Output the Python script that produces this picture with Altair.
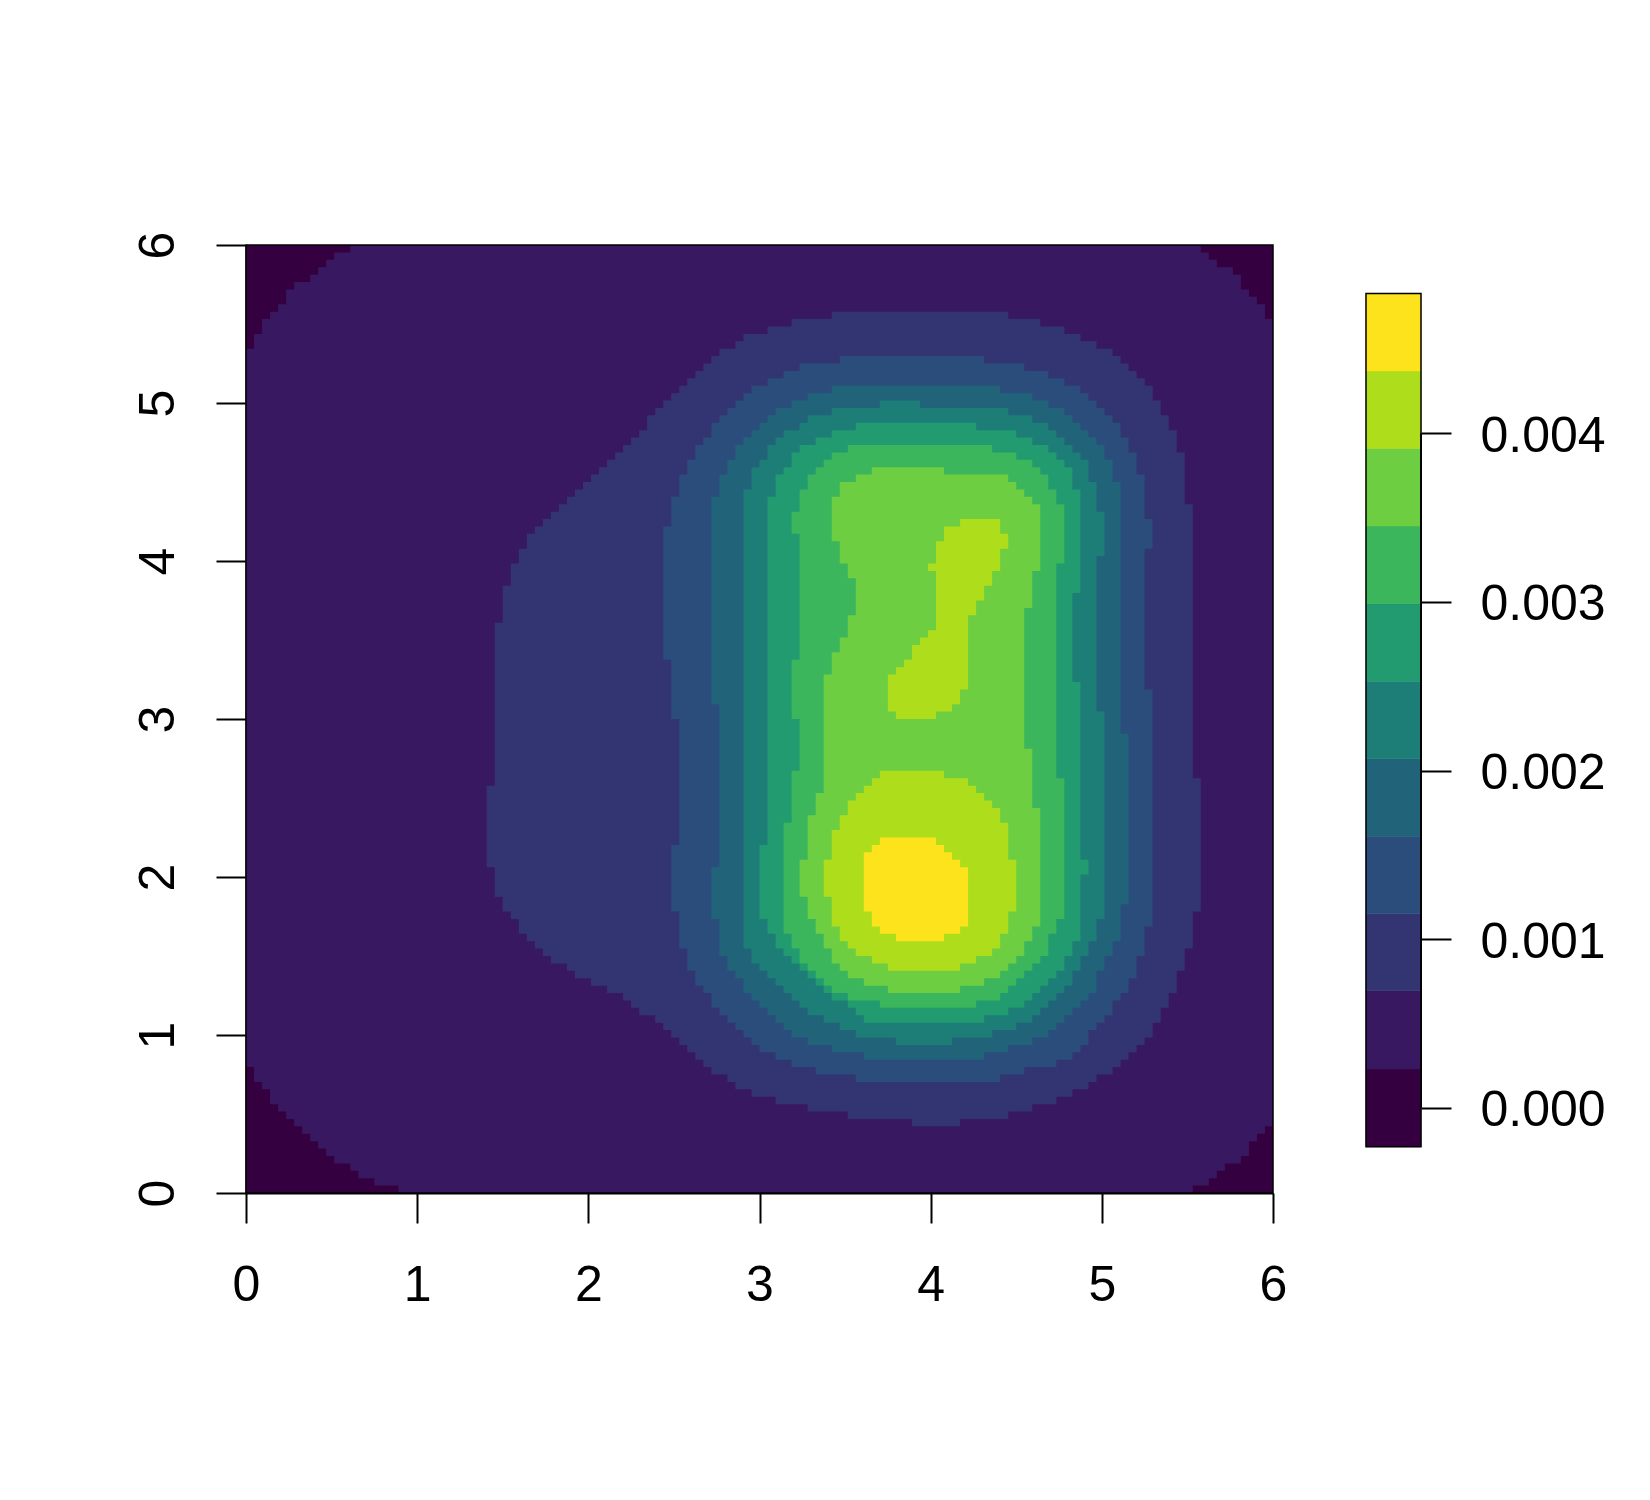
import altair as alt
import pandas as pd

GRID = 128
X_TICKS = [0, 1, 2, 3, 4, 5, 6]
BAR_TICKS = [0.000, 0.001, 0.002, 0.003, 0.004]
COLORS = ["#340040", "#381860", "#333573", "#2A4D7B", "#21647A", "#1D7E78",
          "#219B6F", "#3BB65C", "#6CCE40", "#AEDD1C", "#FDE31B"]
BAR_EDGES = [-0.000231, 0.000230, 0.000694, 0.00115, 0.00161, 0.00207,
             0.00253, 0.00299, 0.00345, 0.00391, 0.00437, 0.00483]

# Region of each image level: (first row, column) steps, rows counted from the top.
L1_LEFT = [(0,13),(1,11),(2,10),(3,9),(4,8),(5,6),(6,5),(8,4),(9,3),(10,2),(12,1),(14,0),(111,1),(113,2),(114,3),(116,4),(117,5),(118,6),(119,7),(120,8),(121,9),(122,10),(123,11),(124,13),(125,14),(126,16),(127,19)]
L1_RIGHT = [(0,119),(1,120),(2,121),(3,123),(4,124),(6,125),(7,126),(8,127),(10,128),(119,127),(120,126),(121,125),(123,124),(124,122),(125,121),(126,120),(127,118)]
L1_END = 127

L2_LEFT = [(9,73),(10,68),(11,65),(12,62),(13,61),(14,59),(15,58),(16,57),(17,56),(18,55),(19,54),(20,53),(21,52),(22,51),(23,50),(25,49),(26,48),(27,47),(28,46),(29,45),(30,44),(31,43),(32,42),(33,41),(34,40),(35,39),(36,38),(37,37),(38,36),(39,35),(41,34),(43,33),(46,32),(51,31),(73,30),(84,31),(88,32),(90,33),(91,34),(93,35),(94,36),(95,37),(96,38),(97,40),(98,41),(99,43),(100,45),(101,47),(102,48),(103,49),(104,51),(105,52),(106,53),(107,54),(108,55),(109,56),(110,57),(111,58),(112,60),(113,61),(114,63),(115,66),(116,70),(117,75),(118,83)]
L2_RIGHT = [(9,95),(10,99),(11,102),(12,104),(13,106),(14,108),(15,109),(16,110),(17,111),(18,112),(19,113),(21,114),(23,115),(25,116),(28,117),(35,118),(72,119),(90,118),(95,117),(98,116),(101,115),(103,114),(105,113),(107,112),(108,111),(109,110),(110,109),(111,108),(112,106),(113,105),(114,103),(115,101),(116,98),(117,95),(118,89)]
L2_END = 118

L3_LEFT = [(15,74),(16,69),(17,67),(18,65),(19,63),(20,62),(21,61),(22,60),(23,59),(24,58),(26,57),(27,56),(29,55),(31,54),(34,53),(38,52),(56,53),(64,54),(81,53),(90,54),(95,55),(98,56),(100,57),(101,58),(103,59),(104,60),(105,61),(106,62),(107,63),(108,64),(109,66),(110,68),(111,71),(112,76)]
L3_RIGHT = [(15,92),(16,97),(17,100),(18,102),(19,104),(20,105),(21,106),(22,107),(23,108),(24,109),(26,110),(28,111),(31,112),(37,113),(41,112),(60,113),(92,112),(96,111),(99,110),(101,109),(102,108),(104,107),(105,106),(106,105),(108,104),(109,103),(110,101),(111,97),(112,94)]
L3_END = 112

L4_LEFT = [(19,73),(20,70),(21,68),(22,66),(23,65),(24,64),(25,63),(26,62),(27,61),(29,60),(31,59),(34,58),(62,59),(84,58),(91,59),(96,60),(98,61),(99,62),(101,63),(102,64),(103,65),(104,66),(105,67),(106,68),(107,70),(108,73),(109,77)]
L4_RIGHT = [(19,94),(20,98),(21,100),(22,102),(23,103),(24,104),(25,105),(26,106),(27,107),(29,108),(32,109),(66,110),(89,109),(94,108),(96,107),(98,106),(101,105),(102,104),(103,103),(104,102),(105,101),(106,100),(107,98),(108,95),(109,92)]
L4_END = 109

L5_LEFT = [(21,79),(22,73),(23,70),(24,69),(25,67),(26,66),(27,65),(29,64),(30,63),(33,62),(95,63),(97,64),(98,65),(99,66),(100,67),(101,68),(102,69),(103,70),(104,72),(105,74),(106,76),(107,81)]
L5_RIGHT = [(21,84),(22,95),(23,98),(24,100),(25,101),(26,102),(27,103),(28,104),(29,105),(32,106),(36,107),(42,106),(63,107),(91,106),(94,105),(96,104),(98,103),(100,102),(101,101),(102,100),(103,99),(104,98),(105,96),(106,93),(107,88)]
L5_END = 107

L6_LEFT = [(24,76),(25,73),(26,71),(27,69),(28,68),(30,67),(31,66),(34,65),(81,64),(91,65),(93,66),(95,67),(96,68),(97,69),(98,70),(99,71),(100,72),(101,73),(102,75),(103,76),(104,77)]
L6_RIGHT = [(24,91),(25,96),(26,98),(27,100),(28,101),(29,102),(30,103),(33,104),(47,103),(59,104),(83,105),(85,104),(94,103),(96,102),(98,101),(99,100),(100,99),(101,98),(102,97),(103,95),(104,92)]
L6_END = 104

L7_LEFT = [(27,75),(28,73),(29,72),(30,71),(31,70),(33,69),(36,68),(39,69),(56,68),(64,69),(71,68),(78,67),(93,68),(95,69),(97,70),(98,71),(99,72),(100,73),(101,75),(102,79)]
L7_RIGHT = [(27,93),(28,96),(29,98),(30,99),(31,100),(33,101),(35,102),(43,101),(72,102),(91,101),(93,100),(96,99),(97,98),(98,97),(99,96),(100,95),(101,94),(102,91)]
L7_END = 102

L8_LEFT = [(30,78),(31,76),(32,74),(34,73),(40,74),(43,75),(45,76),(50,75),(53,74),(55,73),(58,72),(74,71),(77,70),(83,69),(88,70),(91,71),(93,72),(95,73),(97,74),(98,75),(99,77),(100,80)]
L8_RIGHT = [(30,87),(31,95),(32,96),(33,97),(34,98),(35,99),(44,98),(49,97),(68,98),(76,99),(92,98),(94,97),(96,96),(97,95),(98,94),(99,92),(100,89)]
L8_END = 100

L9A_LEFT = [(37,89),(38,87),(40,86),(43,85),(44,86),(52,85),(53,84),(54,83),(56,82),(57,81),(58,80),(63,81)]
L9A_RIGHT = [(37,94),(39,95),(41,94),(44,93),(46,92),(48,91),(50,90),(60,89),(62,88),(63,86)]
L9A_END = 63

L9B_LEFT = [(71,79),(72,78),(73,77),(74,76),(75,75),(77,74),(79,73),(83,72),(88,73),(92,74),(94,75),(95,76),(96,78),(97,80)]
L9B_RIGHT = [(71,87),(72,90),(73,91),(74,92),(75,93),(76,94),(78,95),(83,96),(90,95),(93,94),(95,93),(96,91),(97,89)]
L9B_END = 97

L10_LEFT = [(80,79),(81,78),(82,77),(90,78),(92,79),(93,81)]
L10_RIGHT = [(80,86),(81,87),(82,88),(83,89),(84,90),(92,89),(93,87)]
L10_END = 93

REGIONS = [
    (1, L1_LEFT, L1_RIGHT, L1_END),
    (2, L2_LEFT, L2_RIGHT, L2_END),
    (3, L3_LEFT, L3_RIGHT, L3_END),
    (4, L4_LEFT, L4_RIGHT, L4_END),
    (5, L5_LEFT, L5_RIGHT, L5_END),
    (6, L6_LEFT, L6_RIGHT, L6_END),
    (7, L7_LEFT, L7_RIGHT, L7_END),
    (8, L8_LEFT, L8_RIGHT, L8_END),
    (9, L9A_LEFT, L9A_RIGHT, L9A_END),
    (9, L9B_LEFT, L9B_RIGHT, L9B_END),
    (10, L10_LEFT, L10_RIGHT, L10_END),
]


def col_at(steps, row):
    value = steps[0][1]
    for start, col in steps:
        if start <= row:
            value = col
    return value


def x_of(col):
    return col * 6 / GRID


def y_of(row):
    return 6 - row * 6 / GRID


# Each region becomes one stepped area: every row contributes its lower edge.
records = [
    {"region": 0, "level": 0, "x": 0, "x2": 6, "y": 6},
    {"region": 0, "level": 0, "x": 0, "x2": 6, "y": 0},
]
for region, (level, left, right, end) in enumerate(REGIONS, start=1):
    first = left[0][0]
    records.append({"region": region, "level": level, "x": x_of(col_at(left, first)),
                    "x2": x_of(col_at(right, first)), "y": y_of(first)})
    for row in range(first, end + 1):
        records.append({"region": region, "level": level, "x": x_of(col_at(left, row)),
                        "x2": x_of(col_at(right, row)), "y": y_of(row + 1)})
cells = pd.DataFrame(records)

FONT = "Liberation Sans"
color_scale = alt.Scale(domain=list(range(11)), range=COLORS)
x_scale = alt.Scale(domain=[0, 6], nice=False, zero=False)
y_scale = alt.Scale(domain=[0, 6], nice=False, zero=False)


def region_layer(region):
    return alt.Chart(cells[cells["region"] == region]).mark_area(
        orient="horizontal", interpolate="step-after"
    ).encode(
        x=alt.X("x:Q", scale=x_scale, title=None, axis=alt.Axis(
            values=X_TICKS, format="d", grid=False, tickSize=30, tickWidth=2, tickColor="black",
            domainColor="black", domainWidth=2, labelFont=FONT, labelFontSize=50,
            labelColor="black", labelPadding=37, labelFlush=False, labelOverlap=False)),
        x2="x2:Q",
        y=alt.Y("y:Q", scale=y_scale, title=None, axis=alt.Axis(
            values=X_TICKS, format="d", grid=False, tickSize=30, tickWidth=2, tickColor="black",
            domainColor="black", domainWidth=2, labelFont=FONT, labelFontSize=50,
            labelColor="black", labelAngle=270, labelPadding=33, labelFlush=False, labelOverlap=False)),
        color=alt.Color("level:O", scale=color_scale, legend=None),
    )


box = alt.Chart(pd.DataFrame({"x": [0], "x2": [6], "y": [0], "y2": [6]})).mark_rect(
    filled=False, stroke="black", strokeWidth=1.5
).encode(
    x=alt.X("x:Q", scale=x_scale),
    x2="x2:Q",
    y=alt.Y("y:Q", scale=y_scale),
    y2="y2:Q",
)

main = alt.layer(*[region_layer(i) for i in range(len(REGIONS) + 1)], box).properties(width=1027, height=948)

bar_df = pd.DataFrame({
    "level": list(range(11)),
    "lo": BAR_EDGES[:-1],
    "hi": BAR_EDGES[1:],
    "a": 0,
    "b": 1,
})
bar_y = alt.Scale(domain=[-0.000506, 0.005117], nice=False, zero=False)
bar_x = alt.Scale(domain=[0, 1], nice=False, zero=False)
bar_axis = alt.Axis(
    orient="right", values=BAR_TICKS, format=".3f", grid=False, domain=False,
    tickSize=30, tickWidth=2, tickColor="black", labelFont=FONT, labelFontSize=50,
    labelColor="black", labelPadding=29, labelOffset=3, labelOverlap=False, labelFlush=False)

segments = alt.Chart(bar_df).mark_rect(strokeWidth=0.5).encode(
    x=alt.X("a:Q", scale=bar_x, axis=None),
    x2="b:Q",
    y=alt.Y("lo:Q", scale=bar_y, title=None, axis=bar_axis),
    y2="hi:Q",
    color=alt.Color("level:O", scale=color_scale, legend=None),
    stroke=alt.Stroke("level:O", scale=color_scale, legend=None),
)
outline = alt.Chart(pd.DataFrame({"a": [0], "b": [1], "lo": [BAR_EDGES[0]], "hi": [BAR_EDGES[-1]]})).mark_rect(
    filled=False, stroke="black", strokeWidth=1.5
).encode(
    x=alt.X("a:Q", scale=bar_x, axis=None),
    x2="b:Q",
    y=alt.Y("lo:Q", scale=bar_y, title=None, axis=bar_axis),
    y2="hi:Q",
)
spine = alt.Chart(pd.DataFrame({"a": [1], "lo": [BAR_TICKS[0]], "hi": [BAR_TICKS[-1]]})).mark_rule(
    color="black", strokeWidth=2
).encode(
    x=alt.X("a:Q", scale=bar_x, axis=None),
    y=alt.Y("lo:Q", scale=bar_y, title=None, axis=bar_axis),
    y2="hi:Q",
)
legend = alt.layer(segments, outline, spine).properties(width=55, height=948)

chart = alt.hconcat(main, legend, spacing=78).properties(
    padding={"left": 124, "top": 223, "right": 0, "bottom": 0},
    background="white",
).configure_view(stroke=None)

chart.save("out.html", embed_options={"renderer": "svg", "actions": False})
